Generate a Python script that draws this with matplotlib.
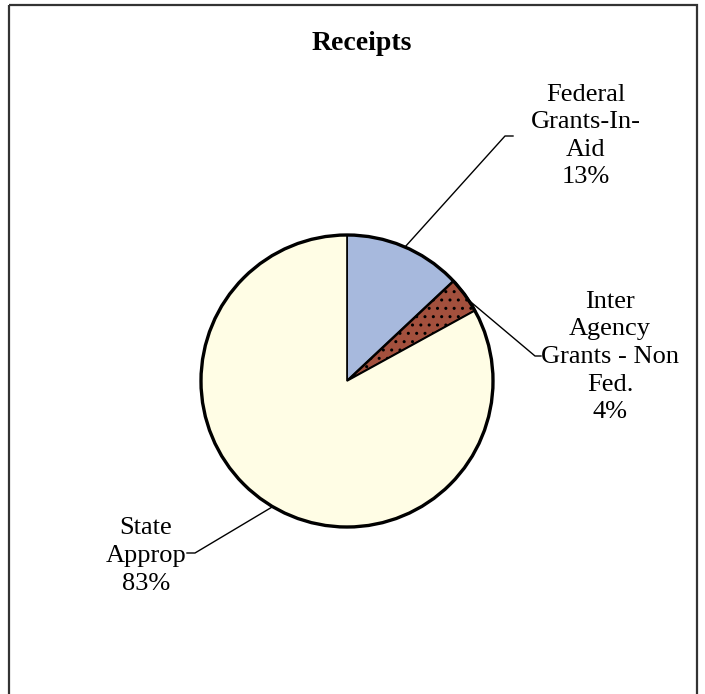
import matplotlib.pyplot as plt
import numpy as np
from matplotlib.patches import Rectangle, Circle

# Datos del grafico
labels = ["Federal\nGrants-In-\nAid", "Inter\nAgency\nGrants - Non\nFed.", "State\nApprop"]
shares = [13, 4, 83]
colors = ["#a7b9dd", "#a3503d", "#fffde5"]

plt.rcParams['font.family'] = ['Liberation Serif', 'DejaVu Serif']

W, H = 705, 694
fig = plt.figure(figsize=(W / 100, H / 100), dpi=100)
ax = fig.add_axes([0, 0, 1, 1])

# marco exterior
ax.add_patch(Rectangle((9, 5), 688, 720, fill=False, lw=1.6, ec='#333333'))

ax.text(362, 43, "Receipts", ha='center', va='center', fontsize=20, fontweight='bold')

cx, cy, r = 347, 381, 146
# eje y invertido: counterclock=True da sentido horario en pantalla, startangle -90 = arriba
wedges, _ = ax.pie(shares, colors=colors, center=(cx, cy), radius=r,
                   startangle=-90, counterclock=True, frame=True,
                   wedgeprops=dict(edgecolor='black', linewidth=1.2))
ax.set_xlim(0, W)
ax.set_ylim(H, 0)
ax.axis('off')
ax.set_aspect('auto')
wedges[1].set_hatch('..')
wedges[1].set_linewidth(1.8)
ax.add_patch(Circle((cx, cy), r, fill=False, ec='black', lw=2.4))

# posiciones de etiquetas y lineas guia
label_pos = [(586, 136), (610, 357), (146, 556)]
line_start_ang = [66.6, 33.7, -120.6]   # grados, sentido matematico
elbows = [((505, 136), (513, 136)), ((535, 356), (541, 356)), ((195, 553), (187, 553))]
for lab, s, (lx, ly), ang, (p1, p2) in zip(labels, shares, label_pos, line_start_ang, elbows):
    ax.text(lx, ly, f"{lab}\n{s}%", ha='center', va='center', fontsize=19, linespacing=1.33)
    a = np.deg2rad(ang)
    x0, y0 = cx + r * np.cos(a), cy - r * np.sin(a)
    ax.plot([x0, p1[0], p2[0]], [y0, p1[1], p2[1]], color='black', lw=1.0)

fig.savefig("out.png", dpi=100)
